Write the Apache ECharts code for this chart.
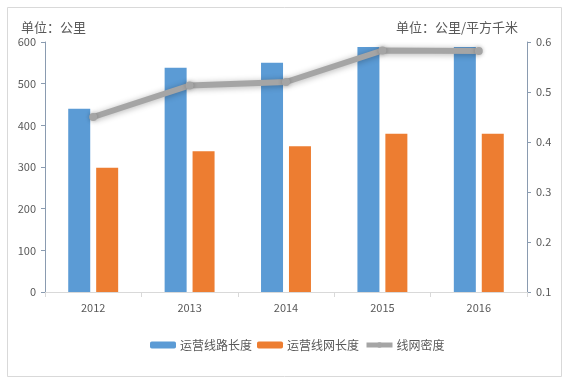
<!DOCTYPE html>
<html><head><meta charset="utf-8">
<script src="https://cdn.jsdelivr.net/npm/echarts@6/dist/echarts.min.js"></script>
<style>html,body{margin:0;padding:0;background:#fff}#c{width:570px;height:380px}</style>
</head><body><div id="c"></div>
<script>
const categories = ['2012','2013','2014','2015','2016'];
const routeLength = [440, 538, 550, 588, 588];
const networkLength = [298, 338, 350, 380, 380];
const density = [0.45, 0.513, 0.52, 0.583, 0.582];
const leftTicks = [0, 600, 100];
const rightTicks = [0.1, 0.6, 0.1];
const seriesNames = ['运营线路长度', '运营线网长度', '线网密度'];
const leftUnit = '单位：公里';
const rightUnit = '单位：公里/平方千米';

const FONT = '"Noto Sans CJK SC", "Noto Sans", sans-serif';
const TXT = '#595959';
const chart = echarts.init(document.getElementById('c'), null, {renderer: 'canvas'});
chart.setOption({
  backgroundColor: '#fff',
  animation: false,
  textStyle: {fontFamily: FONT},
  graphic: [{
    type: 'rect', left: 5, top: 5, silent: true,
    shape: {width: 554, height: 369},
    style: {fill: 'none', stroke: '#d9d9d9', lineWidth: 1}
  }],
  title: [
    {text: leftUnit, left: 16, top: 16, textStyle: {fontSize: 13, fontWeight: 'normal', color: TXT, fontFamily: FONT}},
    {text: rightUnit, right: 47, top: 16, textStyle: {fontSize: 13, fontWeight: 'normal', color: TXT, fontFamily: FONT}}
  ],
  legend: {
    top: 334, left: 145,
    itemWidth: 26, itemHeight: 7, itemGap: 5,
    textStyle: {fontSize: 12, color: TXT, fontFamily: FONT, padding: [0,0,0,-1]},
    data: [
      {name: seriesNames[0]},
      {name: seriesNames[1]},
      {name: seriesNames[2], itemStyle: {color: '#a5a5a5'}, lineStyle: {width: 5, color: '#a5a5a5'}}
    ]
  },
  grid: {left: 45, right: 43, top: 42, bottom: 88, containLabel: false},
  xAxis: {
    type: 'category', data: categories,
    axisLine: {lineStyle: {color: '#d9d9d9'}},
    axisTick: {show: true, length: 5, lineStyle: {color: '#d9d9d9'}},
    axisLabel: {color: TXT, fontSize: 11, margin: 10, fontFamily: FONT}
  },
  yAxis: [{
    type: 'value', min: leftTicks[0], max: leftTicks[1], interval: leftTicks[2],
    axisLine: {show: true, lineStyle: {color: '#8a9bb0'}},
    axisTick: {show: true, length: 4, lineStyle: {color: '#8a9bb0'}},
    splitLine: {show: false},
    axisLabel: {color: TXT, fontSize: 11, margin: 9, fontFamily: FONT}
  }, {
    type: 'value', min: rightTicks[0], max: rightTicks[1], interval: rightTicks[2],
    position: 'right',
    axisLine: {show: true, lineStyle: {color: '#8a9bb0'}},
    axisTick: {show: true, length: 4, lineStyle: {color: '#8a9bb0'}},
    splitLine: {show: false},
    axisLabel: {color: TXT, fontSize: 11, margin: 9, fontFamily: FONT, formatter: v => v.toFixed(1)}
  }],
  series: [{
    name: seriesNames[0], type: 'bar', data: routeLength,
    barWidth: 22, barGap: '27%',
    itemStyle: {color: '#5b9bd5'}
  }, {
    name: seriesNames[1], type: 'bar', data: networkLength,
    barWidth: 22,
    itemStyle: {color: '#ed7d31'}
  }, {
    name: seriesNames[2], type: 'line', data: density, yAxisIndex: 1,
    symbol: 'circle', symbolSize: 8, z: 5,
    lineStyle: {color: '#a5a5a5', width: 6, shadowBlur: 6, shadowColor: 'rgba(0,0,0,0.3)', shadowOffsetY: 1},
    itemStyle: {color: '#a5a5a5', shadowBlur: 4, shadowColor: 'rgba(0,0,0,0.25)'}
  }]
});
</script></body></html>
